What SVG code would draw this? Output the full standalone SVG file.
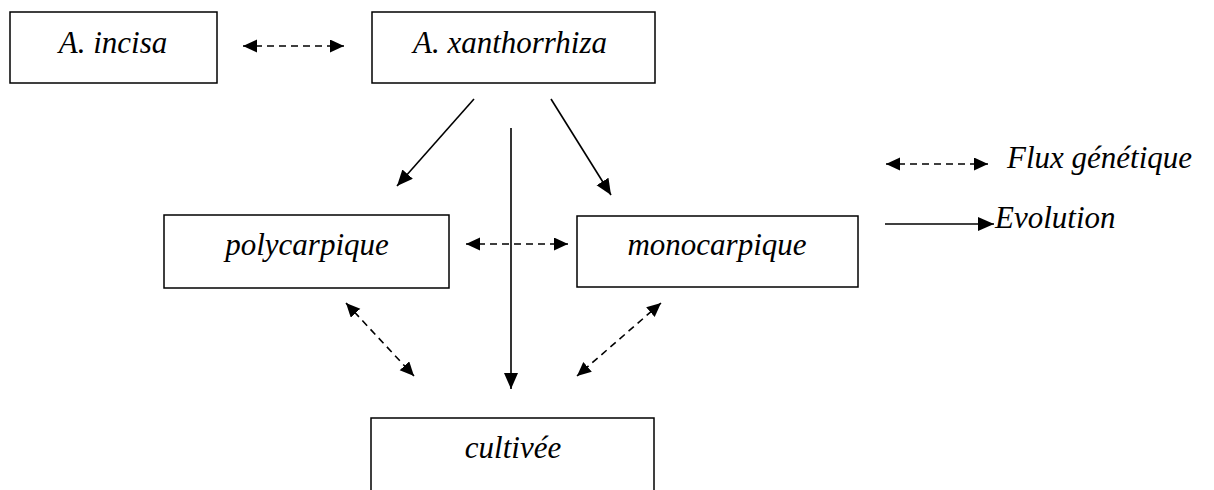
<svg xmlns="http://www.w3.org/2000/svg" width="1214" height="490" viewBox="0 0 1214 490">
<defs>
<style>
.box{fill:#fff;stroke:#000;stroke-width:1.5}
.lbl{font-family:"Liberation Serif","Times New Roman",serif;font-style:italic;font-size:31px;fill:#000}
.dash{stroke:#000;stroke-width:1.6;stroke-dasharray:7 5;fill:none}
.solid{stroke:#000;stroke-width:1.6;fill:none}
</style>
<marker id="hs" markerUnits="userSpaceOnUse" markerWidth="16" markerHeight="14" refX="14" refY="6.5" orient="auto-start-reverse">
<path d="M0,0 L14,6.5 L0,13 Z" fill="#000"/>
</marker>
<marker id="hl" markerUnits="userSpaceOnUse" markerWidth="18" markerHeight="16" refX="16" refY="7" orient="auto">
<path d="M0,0 L16,7 L0,14 Z" fill="#000"/>
</marker>
</defs>
<g id="connectors">
<line class="dash" x1="243" y1="46" x2="344" y2="46" marker-start="url(#hs)" marker-end="url(#hs)"/>
<line class="solid" x1="474" y1="99" x2="397" y2="186" marker-end="url(#hl)"/>
<line class="solid" x1="551" y1="99" x2="611" y2="195" marker-end="url(#hl)"/>
<line class="solid" x1="511" y1="128" x2="511" y2="389" marker-end="url(#hl)"/>
<line class="dash" x1="466" y1="244" x2="568" y2="244" marker-start="url(#hs)" marker-end="url(#hs)"/>
<line class="dash" x1="346" y1="303" x2="414" y2="376" marker-start="url(#hs)" marker-end="url(#hs)"/>
<line class="dash" x1="661" y1="303" x2="577" y2="376" marker-start="url(#hs)" marker-end="url(#hs)"/>
</g>
<g id="node-incisa">
<rect class="box" x="10" y="12" width="207" height="71"/>
<text class="lbl" x="113" y="53" text-anchor="middle">A. incisa</text>
</g>
<g id="node-xanthorrhiza">
<rect class="box" x="372" y="12" width="283" height="71"/>
<text class="lbl" x="510" y="53" text-anchor="middle">A. xanthorrhiza</text>
</g>
<g id="node-polycarpique">
<rect class="box" x="164" y="215" width="285" height="73"/>
<text class="lbl" x="307" y="255" text-anchor="middle">polycarpique</text>
</g>
<g id="node-monocarpique">
<rect class="box" x="577" y="216" width="281" height="71"/>
<text class="lbl" x="717" y="255" text-anchor="middle">monocarpique</text>
</g>
<g id="node-cultivee">
<rect class="box" x="371" y="418" width="283" height="75"/>
<text class="lbl" x="513" y="458" text-anchor="middle">cultivée</text>
</g>
<g id="legend">
<line class="dash" x1="886" y1="164" x2="988" y2="164" marker-start="url(#hs)" marker-end="url(#hs)"/>
<text class="lbl" x="1007" y="168">Flux génétique</text>
<line class="solid" x1="885" y1="224" x2="994" y2="224" marker-end="url(#hl)"/>
<text class="lbl" x="995" y="228">Evolution</text>
</g>
</svg>
